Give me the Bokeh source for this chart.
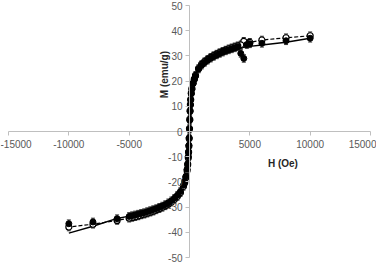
import math
from bokeh.plotting import figure
from bokeh.models import (LinearAxis, FixedTicker, Range1d, Whisker, ColumnDataSource,
                          Label, TeeHead)
from bokeh.embed import file_html
from bokeh.resources import INLINE

# ---- data -------------------------------------------------------------
H = [10000, 8000, 6000, 5000, 4750, 4500, 4250, 4000, 3750, 3500, 3250, 3000,
     2750, 2500, 2250, 2000, 1750, 1500, 1250, 1000, 750, 500, 400, 300, 200,
     150, 100, 75, 50, 25, 0,
     -25, -50, -75, -100, -150, -200, -300, -400, -500, -750, -1000, -1250,
     -1500, -1750, -2000, -2250, -2500, -2750, -3000, -3250, -3500, -3750,
     -4000, -4250, -4500, -4750, -5000, -6000, -8000, -10000]

M_filled = [37.0, 36.0, 35.0, 34.8, 34.5, 29.0, 31.0, 33.6, 33.2, 32.8, 32.4, 32.0,
            31.5, 31.0, 30.4, 29.8, 29.1, 28.3, 27.4, 26.3, 24.8, 22.0, 20.6, 19.0, 16.8,
            15.0, 12.5, 10.5, 8.0, 4.5, 1.0,
            -2.5, -5.5, -8.0, -10.0, -12.8, -15.0, -17.8, -19.8, -21.3, -23.8, -25.3, -26.5,
            -27.5, -28.3, -29.0, -29.6, -30.1, -30.6, -31.0, -31.4, -31.8, -32.2,
            -32.5, -32.8, -33.1, -33.4, -33.7, -34.6, -35.9, -36.6]

M_open = [38.0, 37.2, 36.3, 35.4, 35.0, 35.8, 34.4, 34.0, 33.6, 33.2, 32.8, 32.3,
          31.8, 31.3, 30.7, 30.1, 29.4, 28.6, 27.7, 26.6, 25.0, 22.3, 20.8, 19.2, 17.0,
          15.2, 12.7, 10.7, 8.2, 4.8, 1.2,
          -2.8, -5.8, -8.3, -10.4, -13.2, -15.5, -18.3, -20.3, -21.8, -24.3, -25.8, -27.0,
          -28.0, -28.8, -29.5, -30.1, -30.6, -31.1, -31.6, -32.0, -32.4, -32.8,
          -33.1, -33.5, -33.8, -34.1, -34.4, -35.3, -36.8, -37.9]

H_fit = [10000, 8000, 6000, 5000, 4000, 3000, 2000, 1500, 1000, 750, 500, 300, 200,
         100, 50, 0, -50, -100, -200, -300, -500, -750, -1000, -1500, -2000, -3000,
         -4000, -5000, -6000, -8000, -10000]
M_fit = [37.0, 35.4, 34.3, 33.8, 33.0, 32.0, 30.2, 28.8, 26.5, 24.6, 21.8, 18.5, 16.0,
         11.0, 6.5, 0.0, -6.5, -11.0, -16.0, -18.5, -21.8, -24.2, -25.8, -28.0, -29.5,
         -31.5, -32.8, -33.6, -34.5, -37.6, -40.3]

ERR = 1.5

X_TICKS = [-15000, -10000, -5000, 5000, 10000, 15000]
X_TICK_LABELS = ["-15000", "-10000", "-5000", "5000", "10000", "15000"]
Y_TICKS = [-50, -40, -30, -20, -10, 0, 10, 20, 30, 40, 50]
Y_TICK_LABELS = ["-50", "-40", "-30", "-20", "-10", "0", "10", "20", "30", "40", "50"]

X_LABEL = "H (Oe)"
Y_LABEL = "M (emu/g)"

# ---- figure ------------------------------------------------------------
FONT = "Liberation Sans"
W, HGT = 376, 262
# axis extents -15000..15000 span fig px 8..370, -50..50 span px 5..257
sx = 30000 / 362.0
sy = 100 / 252.0
x_rng = Range1d(-15000 - 8 * sx, 15000 + (W - 370) * sx)
y_rng = Range1d(-50 - (HGT - 257) * sy, 50 + 5 * sy)

p = figure(frame_width=W, frame_height=HGT, x_range=x_rng, y_range=y_rng,
           output_backend="svg", toolbar_location=None,
           x_axis_location=None, y_axis_location=None,
           min_border_left=0, min_border_right=0, min_border_top=0,
           min_border_bottom=0)
p.outline_line_color = None
p.background_fill_color = "white"
p.border_fill_color = "white"
p.grid.visible = False


def style_axis(ax):
    ax.axis_line_color = "#bfbfbf"
    ax.axis_line_width = 1
    ax.major_tick_line_color = "#bfbfbf"
    ax.major_tick_in = 0
    ax.major_tick_out = 4
    ax.minor_tick_line_color = None
    ax.major_label_text_font = FONT
    ax.major_label_text_font_size = "10px"
    ax.major_label_text_color = "#595959"


xaxis = LinearAxis(fixed_location=0, ticker=FixedTicker(ticks=X_TICKS),
                   major_label_overrides=dict(zip(X_TICKS, X_TICK_LABELS)),
                   bounds=(-15000, 15000))
style_axis(xaxis)
xaxis.major_label_standoff = 4
p.add_layout(xaxis, "below")

yaxis = LinearAxis(fixed_location=0, ticker=FixedTicker(ticks=Y_TICKS),
                   major_label_overrides=dict(zip(Y_TICKS, Y_TICK_LABELS)),
                   bounds=(-50, 50))
style_axis(yaxis)
yaxis.major_label_standoff = 3
p.add_layout(yaxis, "left")

# lines
p.line(H, M_open, line_color="black", line_width=1.2, line_dash="4 2")
p.line(H_fit, M_fit, line_color="black", line_width=1.4)

# error bars
for M in (M_open, M_filled):
    src = ColumnDataSource(dict(base=H, upper=[m + ERR for m in M],
                                lower=[m - ERR for m in M]))
    w = Whisker(source=src, base="base", upper="upper", lower="lower",
                dimension="height", line_color="#333333", line_width=1,
                upper_head=TeeHead(size=4, line_color="#333333", line_width=1),
                lower_head=TeeHead(size=4, line_color="#333333", line_width=1))
    p.add_layout(w)

p.scatter(H, M_open, marker="circle", size=6, fill_color="white",
          line_color="black", line_width=1.2)
p.scatter(H, M_filled, marker="circle", size=6, fill_color="black",
          line_color="black")

# axis titles
p.add_layout(Label(x=7740, y=-12.6, text=X_LABEL, text_align="center",
                   text_baseline="middle", text_font=FONT, text_font_size="10px",
                   text_font_style="bold", text_color="#262626"))
p.add_layout(Label(x=-2050, y=22.6, text=Y_LABEL, angle=math.pi / 2,
                   text_align="center", text_baseline="middle", text_font=FONT,
                   text_font_size="10px", text_font_style="bold",
                   text_color="#262626"))

open("out.html", "w").write(file_html(p, INLINE))
